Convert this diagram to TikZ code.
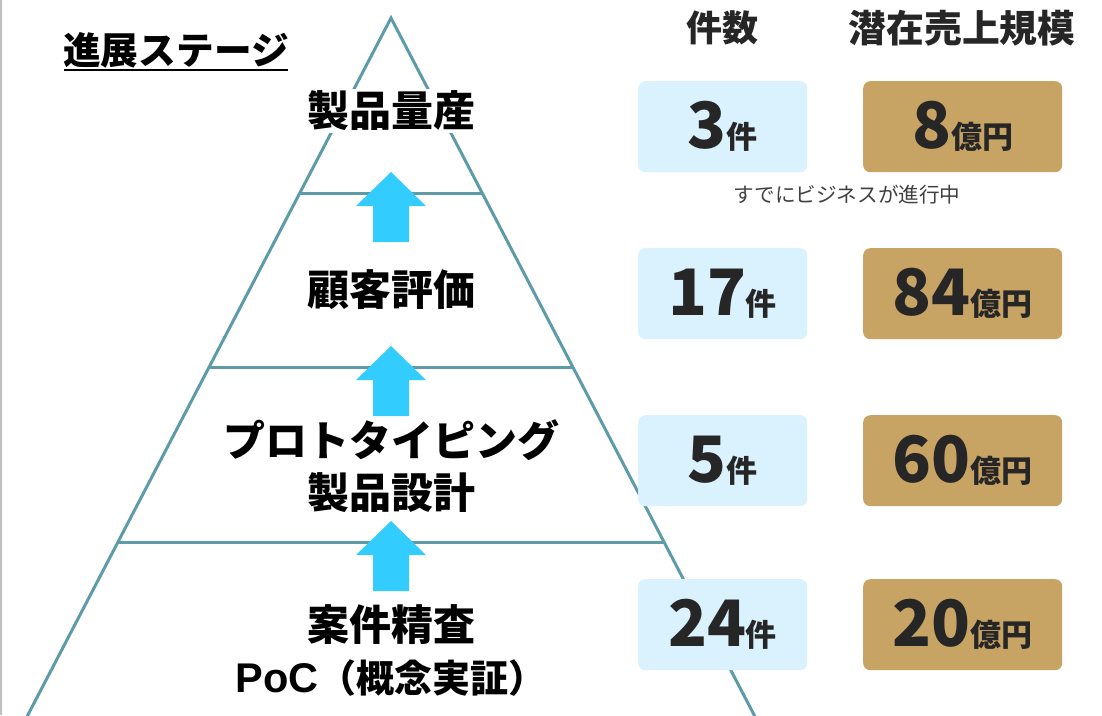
\documentclass[tikz,border=0pt]{standalone}
\usepackage{fontspec}
\setmainfont{Noto Sans CJK JP}
\newfontfamily\latinb{Liberation Sans}
\definecolor{triC}{HTML}{5E9BA9}
\definecolor{arrC}{HTML}{33CCFF}
\definecolor{blueC}{HTML}{DAF2FD}
\definecolor{goldC}{HTML}{C8A464}
\definecolor{numC}{HTML}{262626}
\definecolor{smallC}{HTML}{404040}
\definecolor{edgeC}{HTML}{BFBFBF}
\begin{document}
\begin{tikzpicture}[x=1pt,y=-1pt,
  tri/.style={draw=triC, line width=3pt},
  lbl/.style={font=\bfseries\fontsize{42}{46}\selectfont, fill=white, inner sep=2pt, text=black},
  hdr/.style={font=\bfseries\fontsize{36}{40}\selectfont, text=numC, inner sep=0pt},
  cntbox/.style={fill=blueC, rounded corners=7pt, minimum width=169pt, minimum height=91pt, inner sep=0pt, anchor=north west},
  valbox/.style={fill=goldC, rounded corners=7pt, minimum width=199pt, minimum height=91pt, inner sep=0pt, anchor=north west},
  num/.style={anchor=base, inner sep=0pt, text=numC, font=\bfseries},
  arrowup/.pic={\fill[arrC] (0,0) -- (35,34) -- (18,34) -- (18,70) -- (-18,70) -- (-18,34) -- (-35,34) -- cycle;}
]
\useasboundingbox (0,0) rectangle (1102,715);
\clip (0,0) rectangle (1102,715);
% left edge line
\draw[edgeC, line width=2pt] (1,0) -- (1,715);
% pyramid
\coordinate (apex) at (391,18);
\coordinate (bl) at (4.4,760);
\coordinate (br) at (777.6,760);
\draw[tri, line join=miter] (bl) -- (apex) -- (br);
\draw[tri] (299.8,193) -- (482.2,193);
\draw[tri] (209.2,367) -- (572.8,367);
\draw[tri] (118,542) -- (664,542);
% arrows
\pic at (391,172) {arrowup};
\pic at (391,346) {arrowup};
\pic at (391,521) {arrowup};
% stage labels
\node[lbl] (s1) at (391,111) {製品量産};
\node[lbl] (s2) at (391,290) {顧客評価};
\node[lbl] (s3a) at (391,440) {プロトタイピング};
\node[lbl] (s3b) at (391,493) {製品設計};
\node[lbl] (s4a) at (391,625) {案件精査};
\node[lbl, font=\bfseries\fontsize{38}{46}\selectfont] (s4b) at (391,678) {{\latinb\fontsize{41.5}{46}\selectfont PoC}（概念実証）};
% title
\node[font=\bfseries\fontsize{37.7}{40}\selectfont, inner sep=0pt, text=black] (title) at (176,50) {進展ステージ};
\draw[black, line width=2pt] (64,69.5) -- (288,69.5);
% headers
\node[hdr] (h1) at (722,28) {件数};
\node[hdr, font=\bfseries\fontsize{37.8}{40}\selectfont] (h2) at (962,28) {潜在売上規模};
% boxes
\foreach \t/\n/\v [count=\i] in {81/3/8, 248/17/84, 415/5/60, 579/24/20}{
  \node[cntbox] (c\i) at (638,\t) {};
  \node[valbox] (v\i) at (863,\t) {};
  \node[num] (cn\i) at (722.5,\t+67) {{\fontsize{64}{64}\selectfont\n}{\fontsize{31}{31}\selectfont 件}};
  \node[num] (vn\i) at (962.5,\t+67) {{\fontsize{64}{64}\selectfont\v}{\fontsize{31}{31}\selectfont 億円}};
}
\node[font=\fontsize{20.6}{22}\selectfont, text=smallC, inner sep=0pt] (note) at (847,195) {すでにビジネスが進行中};
\end{tikzpicture}
\end{document}
